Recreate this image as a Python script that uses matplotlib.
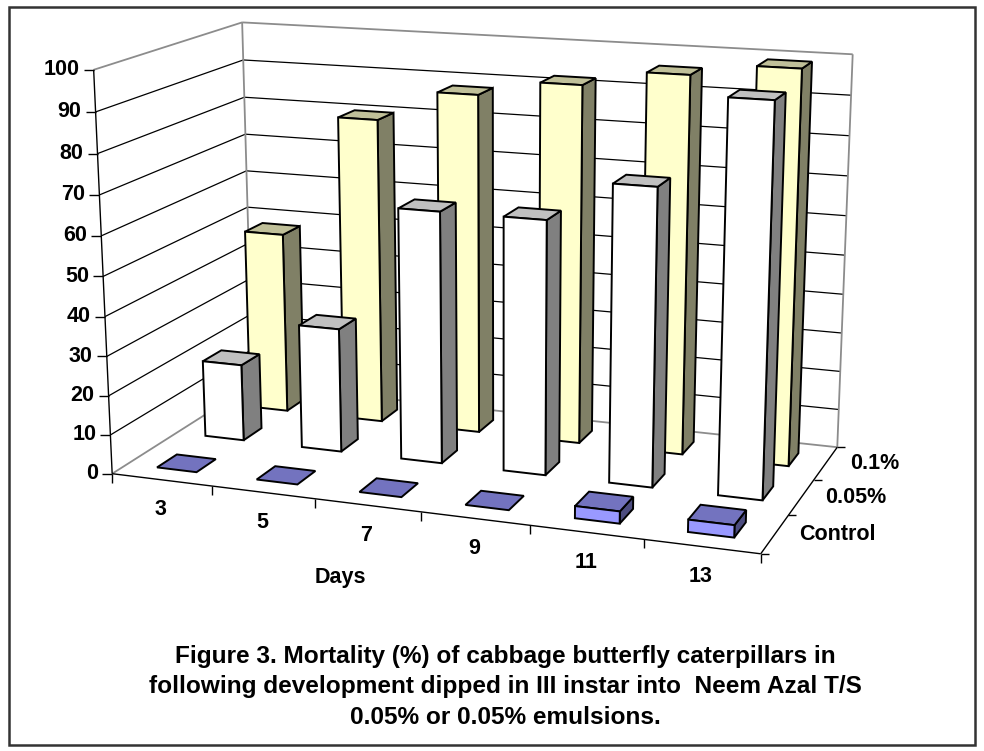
import numpy as np
import matplotlib
matplotlib.use("Agg")
import matplotlib.pyplot as plt
from matplotlib.patches import Polygon, Rectangle

# ---- data -------------------------------------------------------------
days = ["3", "5", "7", "9", "11", "13"]
series_names = ["Control", "0.05%", "0.1%"]          # front row -> back row
mortality_control = [0, 0, 0, 0, 3, 3]
mortality_005 = [20, 32, 64, 64, 74, 96]
mortality_01 = [48, 80, 88, 92, 96, 99]
value_ticks = list(range(0, 101, 10))
axis_title_x = "Days"
caption = ("Figure 3. Mortality (%) of cabbage butterfly caterpillars in\n"
           "following development dipped in III instar into  Neem Azal T/S\n"
           "0.05% or 0.05% emulsions.")

series_values = [mortality_control, mortality_005, mortality_01]

# ---- styles -----------------------------------------------------------
face_colors = [  # (front, top, side)
    ("#9999FF", "#7373BF", "#4D4D80"),
    ("#FFFFFF", "#C0C0C0", "#808080"),
    ("#FFFFCC", "#C0C099", "#808066"),
]
BAR_FRAC = 0.4          # bar width/depth as a fraction of its slot
VMAX = 100.0
NCAT = len(days)
NSER = len(series_names)

# ---- 3D -> canvas projection -----------------------------------------
# Plot box corners (category, depth, value fraction) and their canvas pixels;
# a pinhole camera matrix is fitted to them by least squares.
box_anchors = [
    ((0, 0, 0.0), (112.0, 474.0)),
    ((0, 0, 1.0), (93.5, 70.0)),
    ((0, 3, 0.0), (252.6, 384.0)),
    ((0, 3, 1.0), (242.3, 21.7)),
    ((0, 3, 0.9), (243.3, 60.7)),
    ((6, 3, 0.0), (837.0, 448.0)),
    ((6, 3, 1.0), (852.7, 54.3)),
    ((6, 3, 0.9), (851.0, 95.0)),
    ((6, 0, 0.0), (761.0, 553.0)),
    ((1, 0, 0.0), (212.7, 486.3)),
    ((2, 0, 0.0), (313.3, 498.5)),
    ((3, 0, 0.0), (421.7, 511.7)),
    ((6, 2, 0.0), (814.3, 479.3)),
    ((6, 1, 0.0), (788.0, 516.0)),
]


def fit_camera(pairs):
    rows, rhs = [], []
    for (X, Y, Z), (u, v) in pairs:
        rows.append([X, Y, Z, 1, 0, 0, 0, 0, -u * X, -u * Y, -u * Z])
        rhs.append(u)
        rows.append([0, 0, 0, 0, X, Y, Z, 1, -v * X, -v * Y, -v * Z])
        rhs.append(v)
    p, *_ = np.linalg.lstsq(np.array(rows, float), np.array(rhs, float), rcond=None)
    return np.append(p, 1.0).reshape(3, 4)


CAM = fit_camera(box_anchors)


def proj(x, d, val):
    """Category position x, depth d, data value val -> canvas pixel (u, v)."""
    h = CAM @ np.array([x, d, val / VMAX, 1.0])
    return h[0] / h[2], h[1] / h[2]


# ---- figure -----------------------------------------------------------
W, H = 984, 751
fig = plt.figure(figsize=(W / 100, H / 100), dpi=100)
ax = fig.add_axes([0, 0, 1, 1])
ax.set_xlim(0, W)
ax.set_ylim(H, 0)
ax.axis("off")

FONT = ["Liberation Sans", "DejaVu Sans"]
LABEL_SIZE = 15.5

# chart-area border
ax.add_patch(Rectangle((9, 7), 966, 738, fill=False, edgecolor="#333333",
                       lw=1.8, zorder=1))


def seg(p0, p1, color="black", lw=0.9, z=2):
    ax.plot([p0[0], p1[0]], [p0[1], p1[1]], color=color, lw=lw,
            solid_capstyle="butt", zorder=z)


# gridlines on the side wall and back wall
for t in value_ticks[1:-1]:
    seg(proj(0, 0, t), proj(0, NSER, t))
    seg(proj(0, NSER, t), proj(NCAT, NSER, t))

# wall outlines
WALL = "#8C8C8C"
seg(proj(0, 0, VMAX), proj(0, NSER, VMAX), WALL, 1.3)
seg(proj(0, NSER, VMAX), proj(NCAT, NSER, VMAX), WALL, 1.3)
seg(proj(0, NSER, 0), proj(0, NSER, VMAX), WALL, 1.3)
seg(proj(NCAT, NSER, 0), proj(NCAT, NSER, VMAX), WALL, 1.3)
seg(proj(0, 0, 0), proj(0, NSER, 0), WALL, 1.3)
seg(proj(0, NSER, 0), proj(NCAT, NSER, 0), WALL, 1.3)

# value axis with ticks and labels
seg(proj(0, 0, 0), proj(0, 0, VMAX), "black", 1.0, 3)
for t in value_ticks:
    u, v = proj(0, 0, t)
    seg((u - 10, v), (u, v), "black", 1.0, 3)
    ax.text(u - 14, v, str(t), ha="right", va="center", fontsize=LABEL_SIZE,
            fontweight="bold", family=FONT)

# floor edges (category axis at the front, series axis at the right)
seg(proj(0, 0, 0), proj(NCAT, 0, 0), "black", 1.0, 3)
for i in range(NCAT + 1):
    u, v = proj(i, 0, 0)
    seg((u, v), (u, v + 9), "black", 1.0, 3)
for i, lab in enumerate(days):
    u, v = proj(i + 0.5, 0, 0)
    ax.text(u - 1, v + 30, lab, ha="center", va="center", fontsize=LABEL_SIZE,
            fontweight="bold", family=FONT)

seg(proj(NCAT, 0, 0), proj(NCAT, NSER, 0), "black", 1.0, 3)
for s in range(NSER + 1):
    u, v = proj(NCAT, s, 0)
    seg((u, v), (u + 8, v), "black", 1.0, 3)
for s, lab in enumerate(series_names):
    u, v = proj(NCAT, s + 0.5, 0)
    ax.text(u + 24, v, lab, ha="left", va="center", fontsize=LABEL_SIZE,
            fontweight="bold", family=FONT)

ax.text(340, 577, axis_title_x, ha="center", va="center", fontsize=LABEL_SIZE,
        fontweight="bold", family=FONT)

# ---- columns, drawn from the back row forward, left to right ---------
gap = (1 - BAR_FRAC) / 2
z = 10
for s in reversed(range(NSER)):
    front_c, top_c, side_c = face_colors[s]
    for i, val in enumerate(series_values[s]):
        x0, x1 = i + gap, i + 1 - gap
        d0, d1 = s + gap, s + 1 - gap
        top = [proj(x0, d0, val), proj(x1, d0, val),
               proj(x1, d1, val), proj(x0, d1, val)]
        faces = []
        if val > 0:
            faces.append(([proj(x1, d0, 0), proj(x1, d1, 0),
                           proj(x1, d1, val), proj(x1, d0, val)], side_c))
        faces.append((top, top_c))
        if val > 0:
            faces.append(([proj(x0, d0, 0), proj(x1, d0, 0),
                           proj(x1, d0, val), proj(x0, d0, val)], front_c))
        for pts, c in faces:
            ax.add_patch(Polygon(pts, closed=True, facecolor=c,
                                 edgecolor="black", lw=1.4,
                                 joinstyle="miter", zorder=z))
        z += 1

# ---- caption ----------------------------------------------------------
ax.text(505, 687, caption, ha="center", va="center", fontsize=17.6,
        fontweight="bold", linespacing=1.42, family=FONT)

fig.savefig("out.png", dpi=100)
